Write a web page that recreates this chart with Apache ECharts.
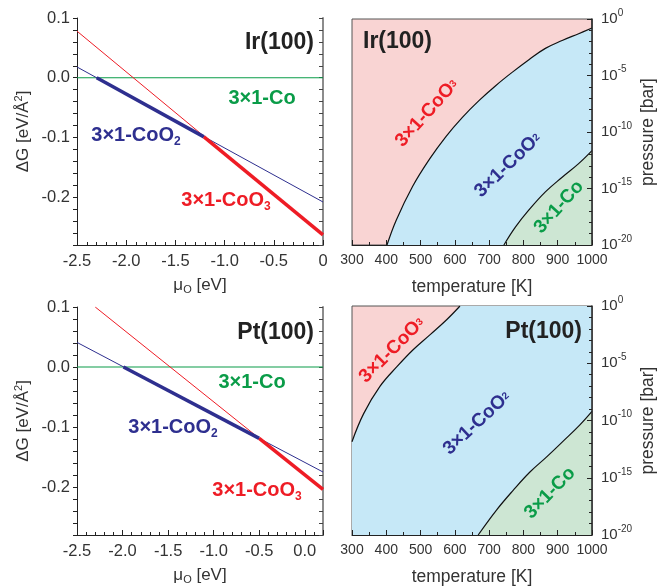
<!DOCTYPE html>
<html>
<head>
<meta charset="utf-8">
<script src="https://cdn.jsdelivr.net/npm/echarts@6/dist/echarts.min.js"></script>
<style>
    html, body { margin: 0; padding: 0; background: #fff; }
    #chart { width: 658px; height: 588px; }
</style>
</head>
<body>
<div id="chart"></div>
<script>
// ΔG(μO) lines, [μO, ΔG]
const irCo = [[-2.5, 0], [0, 0]];
const irCoO2 = [[-2.5, 0.018], [0, -0.208]];
const irCoO3 = [[-2.5, 0.078], [0, -0.263]];
const irCoO2Stable = [[-2.30, 0], [-1.21, -0.099]];
const irCoO3Stable = [[-1.21, -0.099], [0, -0.263]];

const ptCo = [[-2.5, 0], [0.2, 0]];
const ptCoO2 = [[-2.5, 0.041], [0.2, -0.175]];
const ptCoO3 = [[-2.30, 0.1], [0.2, -0.204]];
const ptCoO2Stable = [[-1.99, 0], [-0.5, -0.119]];
const ptCoO3Stable = [[-0.5, -0.119], [0.2, -0.204]];

// phase boundaries, [temperature K, log10 pressure]
const irHighBoundary = [[402, -20], [429, -17.8], [477, -14.8], [526, -12.4], [574, -10.4], [622, -8.7],
    [671, -7.2], [719, -5.9], [768, -4.7], [816, -3.6], [864, -2.6], [913, -1.9], [961, -1.3], [1000, -0.8]];
const irLowBoundary = [[743, -20], [777, -18.4], [816, -16.9], [864, -15.3], [913, -14.0], [961, -12.8], [1000, -11.65]];
const ptHighBoundary = [[300, -11.85], [334, -9.4], [382, -7.0], [431, -5.3], [479, -3.8], [528, -2.5],
    [576, -1.2], [615, 0]];
const ptHighTopEdge = [[615, 0], [1000, 0]];
const ptLowBoundary = [[668, -20], [722, -17.8], [770, -16.1], [819, -14.5], [867, -13.2], [916, -11.8], [964, -10.4], [1000, -9.2]];

const muTicks = [-2.5, -2.0, -1.5, -1.0, -0.5, 0];
const pressureExponents = [0, -5, -10, -15, -20];

const FONT = '"Liberation Sans", Arial, sans-serif';
const TEXT = '#333';
const RED = '#ee1c25';
const BLUE = '#2e2f8f';
const GREEN = '#0a9c48';
const PINK_FILL = '#f9d4d3';
const BLUE_FILL = '#c6e8f7';
const GREEN_FILL = '#cde6d3';

const chart = echarts.init(document.getElementById('chart'), null, { renderer: 'canvas' });

function isMultiple(value, step) {
    const q = value / step;
    return Math.abs(q - Math.round(q)) < 1e-6;
}

function muAxis(gridIndex, max, zeroLabel) {
    return {
        type: 'value',
        gridIndex,
        min: -2.5,
        max,
        interval: 0.5,
        name: '{n|μ}{o|O}{n| [eV]}',
        nameLocation: 'middle',
        nameGap: 30,
        nameTextStyle: {
            rich: {
                n: { fontFamily: FONT, fontSize: 17, color: TEXT, lineHeight: 20 },
                o: { fontFamily: FONT, fontSize: 11, color: TEXT, verticalAlign: 'bottom', lineHeight: 11 },
            },
        },
        axisLine: { onZero: false, lineStyle: { color: '#222', width: 1 } },
        axisTick: { inside: true, length: 5, lineStyle: { color: '#222' } },
        minorTick: { show: true, splitNumber: 5, length: 3, lineStyle: { color: '#222' } },
        splitLine: { show: false },
        axisLabel: {
            fontFamily: FONT,
            fontSize: 16.5,
            color: TEXT,
            margin: 8,
            formatter(value) {
                if (!muTicks.some((t) => Math.abs(t - value) < 1e-6)) {
                    return '';
                }
                if (Math.abs(value) < 1e-6) {
                    return zeroLabel;
                }
                return value.toFixed(1);
            },
        },
    };
}

function gAxis(gridIndex) {
    return {
        type: 'value',
        gridIndex,
        position: 'left',
        min: -0.28,
        max: 0.1,
        interval: 0.02,
        name: '{n|ΔG [eV/Å}{s|2}{n|]}',
        nameLocation: 'middle',
        nameGap: 44,
        nameRotate: 90,
        nameTextStyle: {
            rich: {
                n: { fontFamily: FONT, fontSize: 17, color: TEXT, lineHeight: 20 },
                s: { fontFamily: FONT, fontSize: 11, color: TEXT, verticalAlign: 'top', lineHeight: 11 },
            },
        },
        axisLine: { onZero: false, lineStyle: { color: '#222', width: 1 } },
        axisTick: { length: 4, lineStyle: { color: '#222' } },
        splitLine: { show: false },
        axisLabel: {
            fontFamily: FONT,
            fontSize: 16.5,
            color: TEXT,
            margin: 7,
            formatter(value) {
                return isMultiple(value, 0.1) ? value.toFixed(1) : '';
            },
        },
    };
}

function gMirrorAxis(gridIndex) {
    return {
        type: 'value',
        gridIndex,
        position: 'right',
        min: -0.28,
        max: 0.1,
        interval: 0.02,
        axisLine: { show: true, onZero: false, lineStyle: { color: '#8c8c8c', width: 2 } },
        axisTick: { inside: true, length: 4, lineStyle: { color: '#444' } },
        axisLabel: { show: false },
        splitLine: { show: false },
    };
}

function temperatureAxis(gridIndex) {
    return {
        type: 'value',
        gridIndex,
        min: 300,
        max: 1000,
        interval: 100,
        name: 'temperature [K]',
        nameLocation: 'middle',
        nameGap: 33,
        nameTextStyle: { fontFamily: FONT, fontSize: 17.5, color: TEXT },
        axisLine: { onZero: false, lineStyle: { color: '#222', width: 1 } },
        axisTick: { inside: true, length: 5, lineStyle: { color: '#222' } },
        minorTick: { show: true, splitNumber: 2, length: 3, lineStyle: { color: '#222' } },
        splitLine: { show: false },
        axisLabel: {
            fontFamily: FONT,
            fontSize: 14,
            color: TEXT,
            margin: 8,
            formatter(value) {
                return String(value);
            },
        },
        z: 5,
    };
}

function pressureAxis(gridIndex) {
    return {
        type: 'value',
        gridIndex,
        position: 'right',
        min: -20,
        max: 0,
        interval: 5,
        name: 'pressure [bar]',
        nameLocation: 'middle',
        nameGap: 47,
        nameRotate: 90,
        nameTextStyle: { fontFamily: FONT, fontSize: 17.5, color: TEXT },
        axisLine: { onZero: false, lineStyle: { color: '#222', width: 1.5 } },
        axisTick: { inside: true, length: 5, lineStyle: { color: '#222' } },
        minorTick: { show: true, splitNumber: 5, length: 3, lineStyle: { color: '#222' } },
        splitLine: { show: false },
        axisLabel: {
            margin: 9,
            formatter(value) {
                if (!pressureExponents.includes(value)) {
                    return '';
                }
                return '{b|10}{s|' + value + '}';
            },
            rich: {
                b: { fontFamily: FONT, fontSize: 15, color: TEXT, lineHeight: 22 },
                s: { fontFamily: FONT, fontSize: 10, color: TEXT, verticalAlign: 'top', lineHeight: 10 },
            },
        },
        z: 5,
    };
}

function line(xi, yi, data, color, width, z) {
    return {
        type: 'line',
        xAxisIndex: xi,
        yAxisIndex: yi,
        data,
        showSymbol: false,
        silent: true,
        z,
        lineStyle: { color, width, cap: 'butt' },
    };
}

function boundary(xi, yi, data, fill, z, lineWidth) {
    return {
        type: 'line',
        xAxisIndex: xi,
        yAxisIndex: yi,
        data,
        smooth: 0.4,
        showSymbol: false,
        silent: true,
        z,
        lineStyle: { color: '#111', width: lineWidth == null ? 1.2 : lineWidth },
        areaStyle: { color: fill, opacity: 1, origin: 'start' },
    };
}

const rich = (color, size) => ({
    n: { fontFamily: FONT, fontSize: size, fontWeight: 'bold', fill: color, color, lineHeight: size + 6 },
    s: { fontFamily: FONT, fontSize: Math.round(size * 0.62), fontWeight: 'bold', fill: color, color, verticalAlign: 'bottom', lineHeight: Math.round(size * 0.62) },
    t: { fontFamily: FONT, fontSize: Math.round(size * 0.55), fontWeight: 'bold', fill: color, color, verticalAlign: 'middle', lineHeight: Math.round(size * 0.55) },
});

function label(text, x, y, color, size, rotateDeg, align) {
    return {
        type: 'text',
        x,
        y,
        rotation: (rotateDeg || 0) * Math.PI / 180,
        z: 100,
        style: {
            text,
            fill: color,
            font: 'bold ' + size + 'px ' + FONT,
            align: align || 'center',
            verticalAlign: 'middle',
            textAlign: align || 'center',
            textVerticalAlign: 'middle',
            rich: rich(color, size),
        },
    };
}

const option = {
    animation: false,
    backgroundColor: '#fff',
    grid: [
        { left: 77, top: 18, width: 246, height: 227 },
        { left: 77, top: 307, width: 246, height: 228 },
        { left: 352, top: 19, width: 241, height: 226, show: true, backgroundColor: PINK_FILL, borderColor: '#555', borderWidth: 1 },
        { left: 352, top: 306, width: 240, height: 229, show: true, backgroundColor: PINK_FILL, borderColor: '#555', borderWidth: 1 },
    ],
    xAxis: [
        muAxis(0, 0, '0'),
        muAxis(1, 0.2, '0.0'),
        temperatureAxis(2),
        temperatureAxis(3),
    ],
    yAxis: [
        gAxis(0),
        gMirrorAxis(0),
        gAxis(1),
        gMirrorAxis(1),
        pressureAxis(2),
        pressureAxis(3),
    ],
    series: [
        line(0, 0, irCo, GREEN, 1.2, 2),
        line(0, 0, irCoO2, BLUE, 1, 3),
        line(0, 0, irCoO3, RED, 1, 3),
        line(0, 0, irCoO2Stable, BLUE, 3.5, 4),
        line(0, 0, irCoO3Stable, RED, 3.5, 4),

        line(1, 2, ptCo, GREEN, 1.2, 2),
        line(1, 2, ptCoO2, BLUE, 1, 3),
        line(1, 2, ptCoO3, RED, 1, 3),
        line(1, 2, ptCoO2Stable, BLUE, 3.5, 4),
        line(1, 2, ptCoO3Stable, RED, 3.5, 4),

        boundary(2, 4, irHighBoundary, BLUE_FILL, 2),
        boundary(2, 4, irLowBoundary, GREEN_FILL, 3),
        boundary(3, 5, ptHighBoundary, BLUE_FILL, 2),
        boundary(3, 5, ptHighTopEdge, BLUE_FILL, 2, 0),
        boundary(3, 5, ptLowBoundary, GREEN_FILL, 3),
    ],
    graphic: [
        label('Ir(100)', 314, 43, '#222', 23, 0, 'right'),
        label('{n|3×1-Co}', 262, 98, GREEN, 20),
        label('{n|3×1-CoO}{s|2}', 136, 135, BLUE, 20),
        label('{n|3×1-CoO}{s|3}', 226, 200, RED, 20),

        label('Pt(100)', 314, 333, '#222', 23, 0, 'right'),
        label('{n|3×1-Co}', 252, 382, GREEN, 20),
        label('{n|3×1-CoO}{s|2}', 173, 427, BLUE, 20),
        label('{n|3×1-CoO}{s|3}', 257, 490, RED, 20),

        label('Ir(100)', 363, 42, '#222', 23, 0, 'left'),
        label('{n|3×1-CoO}{t|3}', 427, 113, RED, 19, 48),
        label('{n|3×1-CoO}{t|2}', 508, 165, BLUE, 19, 44),
        label('{n|3×1-Co}', 559, 207, GREEN, 19, 48),

        label('Pt(100)', 582, 332, '#222', 23, 0, 'right'),
        label('{n|3×1-CoO}{t|3}', 392, 350, RED, 19, 45),
        label('{n|3×1-CoO}{t|2}', 477, 423, BLUE, 19, 43),
        label('{n|3×1-Co}', 550, 493, GREEN, 19, 46),
    ],
};

chart.setOption(option);
</script>
</body>
</html>
